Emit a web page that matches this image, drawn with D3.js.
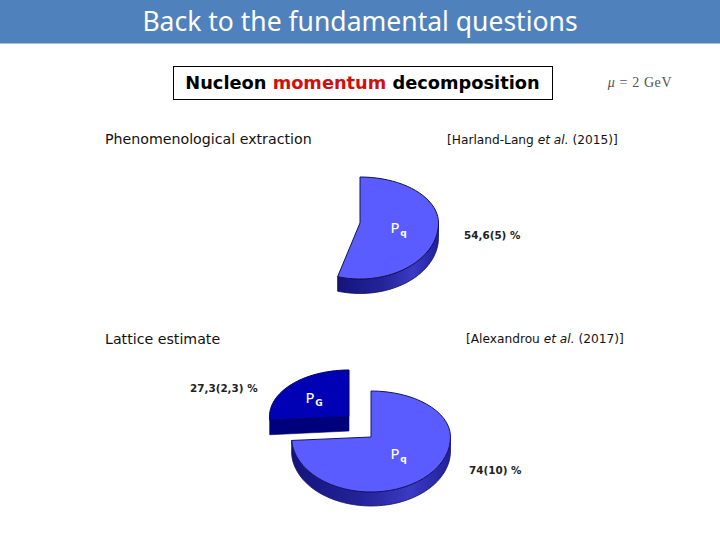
<!DOCTYPE html>
<html><head><meta charset="utf-8"><script src="https://cdn.jsdelivr.net/npm/d3@7"></script>
<style>html,body{margin:0;padding:0;background:#fff}svg{display:block}</style></head>
<body><svg id="c" width="720" height="540" font-family="'DejaVu Sans',sans-serif"></svg>
<script>
const titleText = "Back to the fundamental questions";
const boxWords = [["Nucleon ","#000"],["momentum ","#d01010"],["decomposition","#000"]];
const pheno = {label:"Phenomenological extraction", ref:["[Harland-Lang ","et al."," (2015)]"], value:"54,6(5) %"};
const lattice = {label:"Lattice estimate", ref:["[Alexandrou ","et al."," (2017)]"], gluon:"27,3(2,3) %", quark:"74(10) %"};
const phenoShares = [54.6, 45.4];
const latticeShares = [74, 26];

const svg = d3.select("#c");
const defs = svg.append("defs");
const grad = defs.append("linearGradient").attr("id","wall");
[[0,"#14147a"],[.45,"#24249a"],[.75,"#3a3ac4"],[1,"#20209a"]].forEach(([o,c])=>grad.append("stop").attr("offset",o).attr("stop-color",c));

svg.append("rect").attr("width",720).attr("height",43.5).attr("fill","#4f81bd");
svg.append("text").attr("x",360).attr("y",31).attr("text-anchor","middle").attr("fill","#fff")
  .attr("font-size",26.5).attr("font-family","'Noto Sans',sans-serif").text(titleText);

svg.append("rect").attr("x",173.5).attr("y",66.5).attr("width",379).attr("height",33).attr("fill","#fff").attr("stroke","#000").attr("stroke-width",1);
const bt = svg.append("text").attr("x",362.5).attr("y",88.5).attr("text-anchor","middle").attr("font-weight","bold").attr("font-size",17.8);
boxWords.forEach(([w,c])=>bt.append("tspan").attr("fill",c).attr("xml:space","preserve").text(w));

const mu = svg.append("text").attr("x",640).attr("y",87).attr("text-anchor","middle").attr("font-family","'Liberation Serif',serif")
  .attr("font-size",14).attr("letter-spacing",0.6).attr("fill","#555");
mu.append("tspan").attr("font-style","italic").text("μ");
mu.append("tspan").attr("xml:space","preserve").text(" = 2 GeV");

function plain(x,y,t,fs){return svg.append("text").attr("x",x).attr("y",y).attr("font-size",fs).attr("fill","#111").text(t);}
plain(105,144,pheno.label,14.2);
plain(105,344,lattice.label,14.2);
function refText(x,y,parts){const t=svg.append("text").attr("x",x).attr("y",y).attr("font-size",12.2).attr("fill","#111").attr("xml:space","preserve");
  t.append("tspan").text(parts[0]);t.append("tspan").attr("font-style","italic").text(parts[1]);t.append("tspan").text(parts[2]);}
refText(447,144,pheno.ref);
refText(466,343,lattice.ref);
function valText(x,y,t){svg.append("text").attr("x",x).attr("y",y).attr("font-size",10.4).attr("font-weight","bold").attr("fill","#222").text(t);}
valText(464,239,pheno.value);
valText(190,392,lattice.gluon);
valText(469,474,lattice.quark);

const pie = d3.pie().sort(null);
const angles = s => d3.range(0,49).map(i=>s.startAngle+(s.endAngle-s.startAngle)*i/48);
function proj(g){return a=>{const c=Math.cos(a);return [g.cx+g.rx*Math.sin(a), g.cy-(c>0?g.rt:g.rb)*c];};}
const line = d3.line();
function wedge(g,s,fill,stroke){
  const p=proj(g);
  const pts=[[g.cx,g.cy],...angles(s).map(p)];
  svg.append("path").attr("d",line(pts)+"Z").attr("fill",fill).attr("stroke",stroke).attr("stroke-width",1).attr("stroke-linejoin","round");
}
function wall(g,a0,a1,fill,stroke){
  const p=proj(g);
  const top=d3.range(0,49).map(i=>p(a0+(a1-a0)*i/48));
  const bot=top.map(([x,y])=>[x,y+g.d]).reverse();
  svg.append("path").attr("d",line([...top,...bot])+"Z").attr("fill",fill).attr("stroke",stroke).attr("stroke-width",.8);
}
function sub(x,y,s){const t=svg.append("text").attr("x",x).attr("y",y).attr("fill","#fff").attr("font-size",14.5);
  t.append("tspan").text("P");t.append("tspan").attr("font-size",9).attr("font-weight","bold").attr("dy",3).attr("dx",1).text(s);}

// phenomenological pie
const g1={cx:360,cy:223,rx:78.5,rt:46,rb:56,d:14.5};
const a1=pie(phenoShares)[0];
wall(g1,Math.PI/2,a1.endAngle,"url(#wall)","#10105a");
wedge(g1,a1,"#5a5cff","#10105a");
sub(390.5,232.5,"q");

// lattice pie
const g2={cx:371,cy:437,rx:79.5,rt:46,rb:55,d:14};
const arcs=pie(latticeShares);
wall(g2,Math.PI/2,arcs[0].endAngle,"url(#wall)","#14146a");
wedge(g2,arcs[0],"#5a5cff","#14146a");
sub(390.5,459,"q");

// detached gluon slice
const g3={cx:349,cy:416.5,rx:79.5,rt:46.5,rb:60,d:14.5};
const p3=proj(g3), gs=arcs[1];
const w=p3(gs.startAngle);
svg.append("path").attr("d",line([w,[g3.cx,g3.cy],[g3.cx,g3.cy+g3.d],[w[0],w[1]+g3.d]])+"Z").attr("fill","#00007c").attr("stroke","#00005a").attr("stroke-width",.6);
wedge(g3,gs,"#0000b4","#000060");
sub(305.5,403,"G");
</script></body></html>
